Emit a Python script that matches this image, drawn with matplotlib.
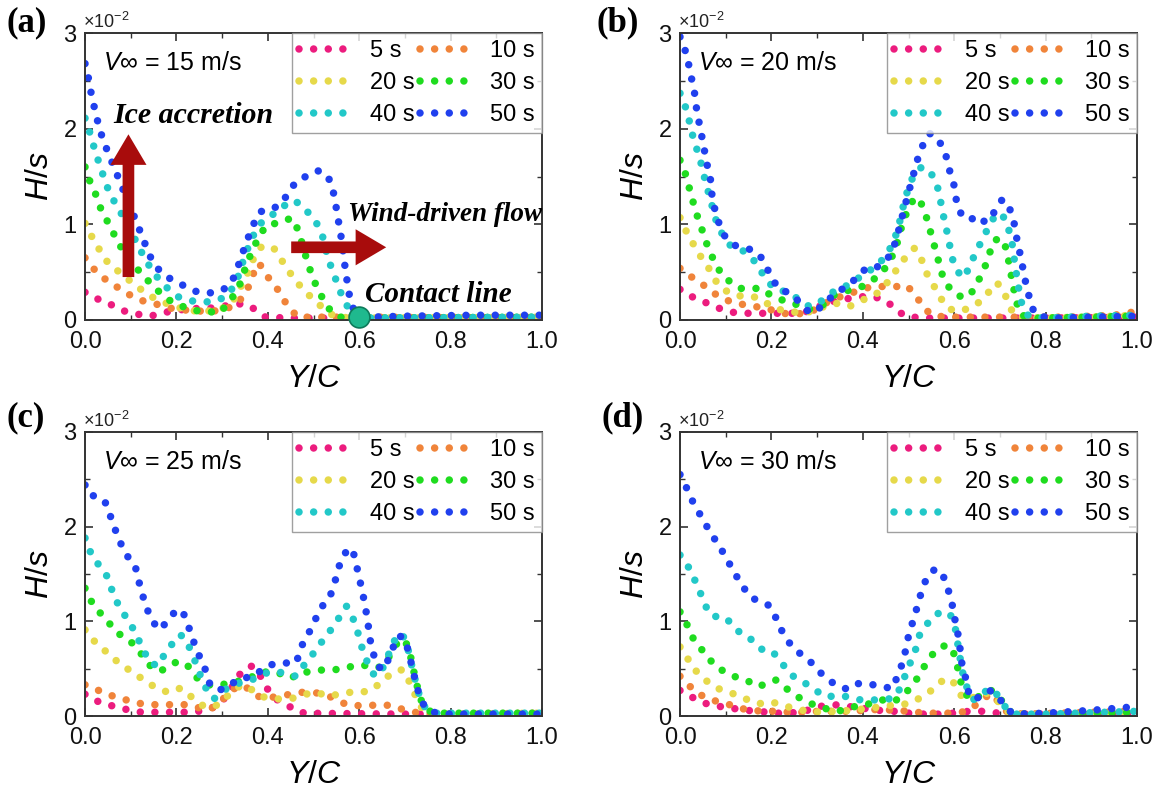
import matplotlib
matplotlib.use("Agg")
import matplotlib.pyplot as plt
from matplotlib.lines import Line2D
from matplotlib.ticker import MultipleLocator, FormatStrFormatter

plt.rcParams['font.family'] = ['Liberation Sans', 'DejaVu Sans']
plt.rcParams['mathtext.fontset'] = 'custom'
plt.rcParams['mathtext.it'] = 'Liberation Sans:italic'
plt.rcParams['mathtext.rm'] = 'Liberation Sans'

# ---------------- data (Y/C, H/s x 1e-2) ----------------
times = ['5 s', '10 s', '20 s', '30 s', '40 s', '50 s']
colors = ['#ec1c7e', '#f0843a', '#e6d94a', '#1fdc1f', '#22c8c8', '#2040ee']
speeds = ['15', '20', '25', '30']
panel_tags = ['(a)', '(b)', '(c)', '(d)']

a5 = [(0,0.29),(0.022,0.23),(0.044,0.19),(0.066,0.14),(0.088,0.09),(0.11,0.07),(0.13,0.04),(0.155,0.05),(0.175,0.08),(0.2,0.10),(0.23,0.12),(0.26,0.12),(0.29,0.13),(0.32,0.16),(0.345,0.17),(0.36,0.15),(0.38,0.08),(0.395,0.03),(0.45,0.02),(0.6,0.02),(0.8,0.02),(1.0,0.02)]
a10 = [(0,0.65),(0.018,0.54),(0.037,0.45),(0.059,0.38),(0.081,0.31),(0.106,0.24),(0.132,0.19),(0.161,0.16),(0.19,0.12),(0.227,0.10),(0.264,0.09),(0.30,0.10),(0.33,0.16),(0.352,0.28),(0.366,0.45),(0.376,0.59),(0.384,0.57),(0.40,0.45),(0.417,0.35),(0.43,0.26),(0.44,0.17),(0.454,0.09),(0.466,0.03),(0.5,0.03),(0.7,0.03),(1.0,0.03)]
a20 = [(0,1.01),(0.011,0.91),(0.022,0.80),(0.037,0.70),(0.051,0.59),(0.07,0.52),(0.088,0.45),(0.106,0.38),(0.125,0.31),(0.147,0.24),(0.169,0.19),(0.198,0.14),(0.227,0.10),(0.256,0.09),(0.286,0.10),(0.311,0.14),(0.33,0.24),(0.344,0.38),(0.359,0.52),(0.37,0.66),(0.385,0.76),(0.40,0.78),(0.415,0.74),(0.427,0.65),(0.44,0.55),(0.455,0.45),(0.47,0.36),(0.49,0.26),(0.51,0.17),(0.53,0.09),(0.548,0.03),(0.6,0.02),(1.0,0.03)]
a30 = [(0,1.60),(0.007,1.50),(0.015,1.39),(0.026,1.29),(0.033,1.18),(0.044,1.08),(0.051,1.01),(0.062,0.91),(0.073,0.80),(0.088,0.70),(0.103,0.59),(0.117,0.52),(0.136,0.42),(0.161,0.30),(0.183,0.21),(0.205,0.16),(0.234,0.10),(0.27,0.09),(0.293,0.07),(0.315,0.18),(0.337,0.35),(0.352,0.56),(0.366,0.73),(0.385,0.91),(0.40,1.0),(0.42,1.01),(0.44,1.05),(0.455,1.06),(0.465,0.95),(0.475,0.80),(0.487,0.60),(0.50,0.42),(0.515,0.27),(0.53,0.14),(0.545,0.06),(0.56,0.03),(0.6,0.02),(1.0,0.03)]
a40 = [(0,2.11),(0.007,2.02),(0.015,1.88),(0.026,1.71),(0.037,1.55),(0.051,1.36),(0.066,1.22),(0.081,1.10),(0.099,0.94),(0.114,0.80),(0.132,0.63),(0.154,0.47),(0.176,0.35),(0.205,0.24),(0.242,0.19),(0.278,0.19),(0.308,0.24),(0.33,0.38),(0.344,0.59),(0.36,0.80),(0.375,0.95),(0.388,1.03),(0.41,1.10),(0.432,1.18),(0.452,1.25),(0.469,1.22),(0.487,1.13),(0.505,1.03),(0.52,0.87),(0.527,0.73),(0.538,0.56),(0.549,0.42),(0.56,0.28),(0.571,0.17),(0.585,0.05),(0.62,0.02),(1.0,0.03)]
a50 = [(0,2.68),(0.007,2.54),(0.015,2.33),(0.022,2.19),(0.029,2.05),(0.037,1.92),(0.051,1.74),(0.066,1.57),(0.081,1.39),(0.099,1.18),(0.114,1.01),(0.125,0.87),(0.143,0.66),(0.165,0.50),(0.19,0.42),(0.22,0.35),(0.242,0.30),(0.27,0.28),(0.30,0.31),(0.32,0.38),(0.337,0.59),(0.352,0.80),(0.366,0.97),(0.38,1.12),(0.40,1.17),(0.42,1.18),(0.44,1.29),(0.462,1.45),(0.483,1.50),(0.509,1.56),(0.527,1.53),(0.54,1.42),(0.548,1.22),(0.555,1.02),(0.562,0.82),(0.567,0.62),(0.573,0.42),(0.578,0.27),(0.585,0.14),(0.595,0.05),(0.62,0.03),(0.7,0.04),(0.85,0.05),(1.0,0.05)]

b5 = [(0,0.32),(0.018,0.26),(0.043,0.21),(0.067,0.16),(0.092,0.11),(0.116,0.08),(0.15,0.07),(0.18,0.07),(0.214,0.07),(0.247,0.07),(0.28,0.09),(0.313,0.16),(0.346,0.21),(0.378,0.23),(0.41,0.25),(0.435,0.23),(0.456,0.18),(0.472,0.11),(0.493,0.04),(0.53,0.02),(0.8,0.02),(1.0,0.03)]
b10 = [(0,0.54),(0.018,0.47),(0.043,0.40),(0.067,0.30),(0.092,0.23),(0.116,0.18),(0.141,0.16),(0.165,0.14),(0.19,0.12),(0.223,0.07),(0.255,0.06),(0.288,0.09),(0.32,0.18),(0.354,0.25),(0.386,0.30),(0.419,0.35),(0.45,0.35),(0.476,0.35),(0.492,0.37),(0.509,0.30),(0.525,0.19),(0.542,0.09),(0.558,0.04),(0.6,0.03),(0.85,0.03),(0.95,0.05),(1.0,0.09)]
b20 = [(0,1.07),(0.01,0.96),(0.026,0.82),(0.043,0.68),(0.063,0.54),(0.083,0.37),(0.108,0.28),(0.133,0.25),(0.157,0.25),(0.18,0.21),(0.206,0.12),(0.238,0.09),(0.272,0.07),(0.304,0.12),(0.337,0.18),(0.37,0.14),(0.40,0.21),(0.427,0.26),(0.45,0.37),(0.476,0.54),(0.497,0.68),(0.513,0.75),(0.525,0.68),(0.537,0.51),(0.554,0.37),(0.57,0.23),(0.587,0.12),(0.607,0.09),(0.632,0.12),(0.656,0.19),(0.677,0.30),(0.693,0.39),(0.705,0.33),(0.718,0.19),(0.73,0.05),(0.76,0.02),(0.9,0.03),(1.0,0.05)]
b30 = [(0,1.67),(0.01,1.56),(0.022,1.35),(0.034,1.14),(0.047,0.96),(0.059,0.79),(0.075,0.61),(0.092,0.47),(0.112,0.39),(0.133,0.33),(0.157,0.33),(0.178,0.33),(0.198,0.26),(0.223,0.21),(0.247,0.18),(0.272,0.12),(0.292,0.11),(0.313,0.16),(0.337,0.26),(0.36,0.30),(0.386,0.33),(0.41,0.37),(0.435,0.47),(0.456,0.58),(0.472,0.75),(0.484,0.96),(0.497,1.14),(0.513,1.28),(0.525,1.25),(0.537,1.11),(0.55,0.89),(0.562,0.68),(0.574,0.47),(0.59,0.33),(0.607,0.26),(0.623,0.23),(0.64,0.30),(0.656,0.44),(0.672,0.61),(0.685,0.82),(0.70,0.86),(0.714,0.75),(0.722,0.54),(0.73,0.33),(0.738,0.16),(0.746,0.05),(0.78,0.02),(0.9,0.03),(1.0,0.04)]
b40 = [(0,2.37),(0.01,2.26),(0.022,2.05),(0.03,1.88),(0.043,1.70),(0.055,1.46),(0.067,1.25),(0.079,1.04),(0.096,0.86),(0.112,0.77),(0.133,0.74),(0.153,0.67),(0.169,0.58),(0.186,0.44),(0.206,0.33),(0.227,0.30),(0.247,0.26),(0.268,0.18),(0.284,0.14),(0.304,0.18),(0.337,0.30),(0.37,0.37),(0.40,0.47),(0.435,0.58),(0.46,0.75),(0.476,0.93),(0.488,1.18),(0.50,1.39),(0.513,1.53),(0.529,1.60),(0.546,1.56),(0.558,1.46),(0.566,1.35),(0.574,1.14),(0.587,0.86),(0.595,0.65),(0.607,0.51),(0.62,0.44),(0.632,0.54),(0.648,0.72),(0.664,0.86),(0.681,1.04),(0.70,1.12),(0.714,1.04),(0.726,0.82),(0.734,0.54),(0.742,0.30),(0.75,0.12),(0.763,0.04),(0.8,0.02),(0.9,0.04),(1.0,0.05)]
b50 = [(0,2.96),(0.01,2.84),(0.018,2.70),(0.022,2.58),(0.03,2.44),(0.038,2.14),(0.043,2.04),(0.059,1.63),(0.067,1.46),(0.071,1.25),(0.083,1.04),(0.096,0.89),(0.108,0.82),(0.124,0.77),(0.145,0.75),(0.165,0.72),(0.178,0.65),(0.19,0.54),(0.202,0.44),(0.214,0.33),(0.23,0.30),(0.247,0.26),(0.26,0.19),(0.272,0.12),(0.288,0.07),(0.304,0.12),(0.329,0.23),(0.354,0.32),(0.37,0.37),(0.386,0.44),(0.407,0.54),(0.427,0.54),(0.448,0.61),(0.46,0.68),(0.472,0.82),(0.484,1.04),(0.497,1.28),(0.509,1.49),(0.521,1.70),(0.534,1.86),(0.546,1.95),(0.562,1.91),(0.574,1.81),(0.583,1.70),(0.59,1.56),(0.599,1.42),(0.607,1.18),(0.62,1.07),(0.636,1.05),(0.652,1.09),(0.668,1.02),(0.685,1.11),(0.705,1.26),(0.718,1.21),(0.73,1.04),(0.738,0.82),(0.746,0.65),(0.754,0.44),(0.763,0.26),(0.771,0.12),(0.783,0.04),(0.82,0.02),(0.9,0.03),(1.0,0.04)]

c5 = [(0,0.23),(0.025,0.16),(0.049,0.12),(0.074,0.09),(0.098,0.06),(0.123,0.04),(0.155,0.04),(0.196,0.04),(0.237,0.04),(0.27,0.07),(0.294,0.12),(0.315,0.25),(0.335,0.42),(0.352,0.51),(0.368,0.53),(0.384,0.42),(0.40,0.28),(0.417,0.18),(0.442,0.12),(0.462,0.05),(0.482,0.03),(0.7,0.02),(1.0,0.02)]
c10 = [(0,0.33),(0.025,0.28),(0.049,0.23),(0.074,0.19),(0.098,0.16),(0.123,0.13),(0.147,0.12),(0.172,0.12),(0.196,0.12),(0.221,0.12),(0.245,0.09),(0.274,0.07),(0.298,0.16),(0.323,0.28),(0.343,0.33),(0.36,0.28),(0.376,0.21),(0.40,0.19),(0.425,0.21),(0.45,0.23),(0.474,0.25),(0.499,0.25),(0.523,0.23),(0.548,0.18),(0.572,0.12),(0.597,0.11),(0.621,0.11),(0.646,0.12),(0.67,0.11),(0.695,0.07),(0.72,0.04),(0.76,0.02),(1.0,0.03)]
c20 = [(0,0.91),(0.016,0.81),(0.037,0.72),(0.057,0.63),(0.082,0.53),(0.106,0.46),(0.131,0.37),(0.155,0.30),(0.176,0.26),(0.196,0.30),(0.217,0.28),(0.237,0.18),(0.258,0.11),(0.278,0.09),(0.298,0.14),(0.319,0.25),(0.343,0.33),(0.364,0.28),(0.384,0.21),(0.409,0.18),(0.433,0.18),(0.458,0.19),(0.482,0.23),(0.507,0.25),(0.531,0.21),(0.556,0.23),(0.58,0.25),(0.605,0.25),(0.63,0.28),(0.654,0.39),(0.678,0.47),(0.695,0.49),(0.707,0.39),(0.72,0.25),(0.732,0.11),(0.748,0.04),(0.78,0.02),(1.0,0.03)]
c30 = [(0,1.35),(0.016,1.19),(0.033,1.09),(0.053,0.98),(0.07,0.88),(0.094,0.81),(0.11,0.74),(0.127,0.63),(0.143,0.53),(0.164,0.47),(0.184,0.53),(0.204,0.58),(0.225,0.53),(0.241,0.42),(0.258,0.35),(0.278,0.32),(0.298,0.33),(0.319,0.35),(0.339,0.37),(0.36,0.40),(0.384,0.46),(0.409,0.47),(0.433,0.44),(0.45,0.40),(0.474,0.46),(0.499,0.47),(0.523,0.49),(0.548,0.49),(0.572,0.51),(0.597,0.54),(0.621,0.53),(0.642,0.51),(0.662,0.60),(0.678,0.74),(0.691,0.81),(0.70,0.80),(0.71,0.68),(0.718,0.50),(0.726,0.33),(0.734,0.18),(0.746,0.07),(0.765,0.03),(1.0,0.03)]
c40 = [(0,1.88),(0.016,1.68),(0.033,1.58),(0.049,1.47),(0.061,1.30),(0.078,1.12),(0.094,1.02),(0.11,0.88),(0.127,0.70),(0.143,0.56),(0.16,0.53),(0.176,0.67),(0.192,0.77),(0.208,0.86),(0.221,0.81),(0.233,0.67),(0.245,0.53),(0.258,0.35),(0.27,0.25),(0.282,0.18),(0.298,0.25),(0.319,0.32),(0.339,0.35),(0.36,0.37),(0.38,0.42),(0.40,0.46),(0.421,0.47),(0.442,0.44),(0.462,0.42),(0.478,0.53),(0.495,0.63),(0.511,0.74),(0.527,0.84),(0.544,0.95),(0.56,1.07),(0.572,1.16),(0.585,1.05),(0.597,0.88),(0.609,0.67),(0.621,0.53),(0.634,0.42),(0.65,0.49),(0.666,0.67),(0.683,0.86),(0.695,0.86),(0.707,0.70),(0.715,0.53),(0.724,0.35),(0.732,0.21),(0.744,0.09),(0.76,0.03),(1.0,0.03)]
c50 = [(0,2.44),(0.012,2.33),(0.029,2.32),(0.045,2.25),(0.061,2.04),(0.074,1.86),(0.094,1.68),(0.11,1.58),(0.119,1.40),(0.127,1.26),(0.139,1.09),(0.151,0.98),(0.164,0.91),(0.176,0.98),(0.188,1.05),(0.20,1.12),(0.213,1.11),(0.221,1.02),(0.229,0.91),(0.241,0.74),(0.253,0.60),(0.266,0.46),(0.274,0.32),(0.286,0.28),(0.303,0.28),(0.319,0.33),(0.335,0.39),(0.352,0.40),(0.368,0.46),(0.384,0.47),(0.40,0.53),(0.421,0.56),(0.442,0.56),(0.462,0.56),(0.474,0.74),(0.49,0.88),(0.507,1.05),(0.523,1.19),(0.536,1.26),(0.548,1.44),(0.56,1.65),(0.572,1.74),(0.585,1.77),(0.593,1.61),(0.601,1.44),(0.609,1.26),(0.617,1.05),(0.625,0.77),(0.638,0.53),(0.654,0.49),(0.67,0.67),(0.683,0.84),(0.695,0.84),(0.707,0.70),(0.715,0.53),(0.724,0.35),(0.732,0.21),(0.744,0.09),(0.76,0.04),(0.8,0.02),(1.0,0.02)]

d5 = [(0,0.27),(0.018,0.22),(0.038,0.17),(0.063,0.12),(0.088,0.10),(0.116,0.08),(0.145,0.06),(0.173,0.05),(0.206,0.03),(0.239,0.03),(0.272,0.05),(0.304,0.10),(0.337,0.12),(0.37,0.10),(0.403,0.08),(0.435,0.06),(0.468,0.05),(0.501,0.03),(0.534,0.02),(0.566,0.02),(0.599,0.03),(0.632,0.05),(0.665,0.05),(0.697,0.03),(0.75,0.02),(1.0,0.03)]
d10 = [(0,0.42),(0.018,0.33),(0.038,0.24),(0.059,0.19),(0.083,0.15),(0.108,0.12),(0.133,0.08),(0.157,0.06),(0.182,0.05),(0.206,0.05),(0.239,0.04),(0.272,0.04),(0.304,0.05),(0.337,0.05),(0.37,0.05),(0.403,0.06),(0.435,0.07),(0.468,0.06),(0.501,0.05),(0.534,0.03),(0.566,0.03),(0.599,0.03),(0.628,0.05),(0.648,0.12),(0.669,0.20),(0.681,0.24),(0.697,0.15),(0.714,0.05),(0.75,0.02),(0.9,0.04),(1.0,0.05)]
d20 = [(0,0.73),(0.014,0.63),(0.03,0.50),(0.047,0.42),(0.063,0.35),(0.083,0.29),(0.104,0.26),(0.124,0.22),(0.149,0.17),(0.173,0.13),(0.198,0.15),(0.223,0.12),(0.247,0.08),(0.28,0.05),(0.313,0.04),(0.345,0.05),(0.378,0.06),(0.41,0.08),(0.444,0.10),(0.476,0.12),(0.501,0.13),(0.525,0.19),(0.55,0.27),(0.57,0.36),(0.587,0.40),(0.599,0.35),(0.611,0.24),(0.624,0.17),(0.64,0.19),(0.656,0.24),(0.677,0.24),(0.693,0.17),(0.714,0.05),(0.75,0.02),(1.0,0.03)]
d30 = [(0,1.10),(0.014,0.98),(0.026,0.84),(0.043,0.73),(0.059,0.63),(0.079,0.52),(0.104,0.45),(0.128,0.40),(0.153,0.36),(0.173,0.31),(0.19,0.35),(0.21,0.38),(0.227,0.31),(0.247,0.24),(0.268,0.17),(0.292,0.12),(0.317,0.08),(0.345,0.05),(0.37,0.08),(0.395,0.12),(0.419,0.13),(0.444,0.17),(0.468,0.15),(0.493,0.24),(0.513,0.35),(0.534,0.52),(0.554,0.66),(0.57,0.73),(0.587,0.75),(0.599,0.66),(0.607,0.52),(0.615,0.35),(0.624,0.24),(0.636,0.17),(0.652,0.20),(0.668,0.26),(0.684,0.27),(0.70,0.19),(0.714,0.08),(0.73,0.02),(0.8,0.02),(1.0,0.04)]
d40 = [(0,1.70),(0.014,1.61),(0.026,1.51),(0.038,1.37),(0.051,1.23),(0.063,1.08),(0.079,1.05),(0.096,1.05),(0.112,0.98),(0.133,0.87),(0.153,0.82),(0.173,0.73),(0.19,0.66),(0.206,0.66),(0.223,0.56),(0.239,0.45),(0.26,0.38),(0.28,0.33),(0.30,0.26),(0.321,0.20),(0.345,0.22),(0.37,0.20),(0.395,0.17),(0.419,0.17),(0.444,0.17),(0.468,0.19),(0.484,0.31),(0.497,0.49),(0.513,0.66),(0.525,0.87),(0.542,0.98),(0.558,1.07),(0.574,1.10),(0.591,1.08),(0.603,0.91),(0.611,0.66),(0.62,0.42),(0.632,0.24),(0.644,0.17),(0.66,0.23),(0.677,0.29),(0.689,0.26),(0.701,0.17),(0.714,0.08),(0.73,0.02),(0.8,0.02),(1.0,0.05)]
d50 = [(0,2.55),(0.01,2.46),(0.022,2.32),(0.034,2.21),(0.051,2.07),(0.067,1.93),(0.083,1.82),(0.10,1.68),(0.116,1.54),(0.133,1.40),(0.153,1.26),(0.173,1.21),(0.194,1.17),(0.206,1.08),(0.218,0.94),(0.235,0.80),(0.251,0.70),(0.272,0.63),(0.288,0.56),(0.309,0.45),(0.325,0.38),(0.341,0.33),(0.362,0.29),(0.382,0.35),(0.403,0.33),(0.423,0.33),(0.444,0.31),(0.464,0.29),(0.476,0.42),(0.489,0.59),(0.501,0.87),(0.513,1.05),(0.525,1.26),(0.538,1.44),(0.554,1.54),(0.57,1.54),(0.583,1.40),(0.595,1.19),(0.603,0.98),(0.611,0.80),(0.615,0.59),(0.624,0.42),(0.632,0.24),(0.644,0.17),(0.66,0.22),(0.677,0.27),(0.689,0.24),(0.701,0.17),(0.714,0.08),(0.73,0.02),(0.8,0.03),(0.9,0.06),(1.0,0.10)]

panels = [[a5, a10, a20, a30, a40, a50],
          [b5, b10, b20, b30, b40, b50],
          [c5, c10, c20, c30, c40, c50],
          [d5, d10, d20, d30, d40, d50]]

# ---------------- figure ----------------
fig = plt.figure(figsize=(11.63, 8.01), dpi=100)
rects = [[0.0731, 0.6005, 0.393, 0.3583],
         [0.5847, 0.6005, 0.393, 0.3583],
         [0.0731, 0.1061, 0.393, 0.3546],
         [0.5847, 0.1061, 0.393, 0.3546]]
tag_pos = [(0.006, 0.972), (0.513, 0.972), (0.006, 0.478), (0.517, 0.478)]

DOT = (0, (0.001, 1.95))
LW = 5.4

for k in range(4):
    ax = fig.add_axes(rects[k])
    for curve, col in zip(panels[k], colors):
        xs = [p[0] for p in curve]
        ys = [p[1] for p in curve]
        ax.plot(xs, ys, linestyle=DOT, lw=LW, color=col,
                dash_capstyle='round', solid_capstyle='round')
    ax.set_xlim(0, 1.0)
    ax.set_ylim(0, 3)
    ax.xaxis.set_major_locator(MultipleLocator(0.2))
    ax.xaxis.set_minor_locator(MultipleLocator(0.1))
    ax.yaxis.set_major_locator(MultipleLocator(1))
    ax.yaxis.set_minor_locator(MultipleLocator(0.5))
    ax.xaxis.set_major_formatter(FormatStrFormatter('%.1f'))
    ax.yaxis.set_major_formatter(FormatStrFormatter('%d'))
    ax.tick_params(which='both', direction='in', top=True, right=True,
                   colors='#333333', labelcolor='#111111')
    ax.tick_params(which='major', length=6, width=1.2, labelsize=17)
    ax.tick_params(axis='x', which='major', pad=8)
    ax.tick_params(axis='y', which='major', pad=6)
    ax.tick_params(which='minor', length=3.5, width=1.0)
    for s in ax.spines.values():
        s.set_linewidth(1.4)
        s.set_color('#333333')
    ax.set_xlabel('$Y/C$', fontsize=23, labelpad=8)
    ax.set_ylabel('$H/s$', fontsize=23, labelpad=6)
    ax.text(-0.005, 1.005, r'$\times$10$^{-2}$', transform=ax.transAxes,
            fontsize=13, ha='left', va='bottom', color='#222222')
    ax.text(0.04, 0.895, '$V$\u221e = ' + speeds[k] + ' m/s', transform=ax.transAxes,
            fontsize=18, ha='left', va='center', family=['Liberation Sans', 'DejaVu Sans'])
    fig.text(tag_pos[k][0], tag_pos[k][1], panel_tags[k], fontsize=25,
             fontweight='bold', family='Liberation Serif', ha='left', va='center')

    order = [0, 2, 4, 1, 3, 5]
    handles = [Line2D([0], [0], linestyle=DOT, lw=LW, color=colors[i],
                      dash_capstyle='round') for i in order]
    labels = [times[i] for i in order]
    leg = ax.legend(handles, labels, ncol=2, loc='upper right', fontsize=17,
                    frameon=True, fancybox=False, edgecolor='#888888',
                    handlelength=2.0, handletextpad=1.0, columnspacing=0.2,
                    labelspacing=0.42, borderpad=0.3, borderaxespad=0.0)
    leg.get_frame().set_linewidth(1.0)

    if k == 0:
        serif_bi = dict(family='Liberation Serif', fontweight='bold', style='italic')
        ax.annotate('', xy=(0.095, 1.97), xytext=(0.095, 0.42),
                    arrowprops=dict(arrowstyle='simple,head_length=1.1,head_width=1.3,tail_width=0.42',
                                    color='#a80c0c', lw=0, mutation_scale=20))
        ax.annotate('', xy=(0.665, 0.76), xytext=(0.445, 0.76),
                    arrowprops=dict(arrowstyle='simple,head_length=1.1,head_width=1.3,tail_width=0.42',
                                    color='#a80c0c', lw=0, mutation_scale=20))
        ax.text(0.061, 2.14, 'Ice accretion', fontsize=21.5, ha='left', va='center', **serif_bi)
        ax.text(0.575, 1.1, 'Wind-driven flow', fontsize=19.5, ha='left', va='center', **serif_bi)
        ax.text(0.613, 0.27, 'Contact line', fontsize=21, ha='left', va='center', **serif_bi)
        ax.plot([0.6], [0.03], marker='o', ms=15, color='#1fb98e', mec='#0d7a5a',
                mew=1.2, clip_on=False, zorder=5)

fig.savefig('out.png', dpi=100)
